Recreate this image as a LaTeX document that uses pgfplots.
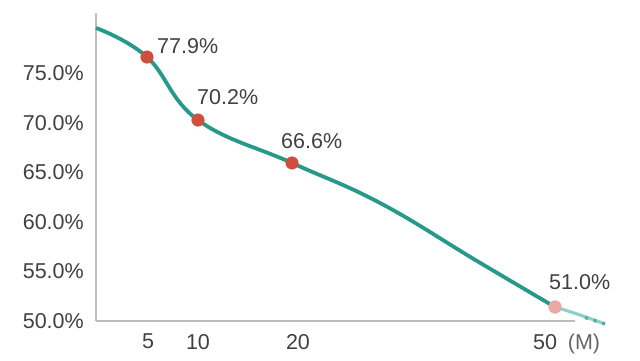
\documentclass[border=0pt]{standalone}
\usepackage{pgfplots}
\pgfplotsset{compat=1.18}
\usepackage{fontspec}
\setmainfont{Liberation Sans}
\definecolor{teal1}{HTML}{26998B}
\definecolor{tealtail}{HTML}{8FD0C8}
\definecolor{mk}{HTML}{CF4F3F}
\definecolor{mkpale}{HTML}{EBA9A6}
\definecolor{txt}{HTML}{404040}
\definecolor{axg}{HTML}{BDBDBD}
\begin{document}
\begin{tikzpicture}
\begin{axis}[
  at={(96pt,40pt)}, anchor=south west,
  scale only axis,
  width=479pt, height=308pt,
  xmin=96, xmax=575, ymin=50, ymax=81.05,
  clip=false,
  axis lines=left,
  axis line style={axg, line width=1.1pt, -},
  major tick length=0pt,
  ytick={50,55,60,65,70,75},
  yticklabels={50.0\%,55.0\%,60.0\%,65.0\%,70.0\%,75.0\%},
  xtick={148,198,298,545},
  xticklabels={5,10,20,50},
  ticklabel style={font=\fontsize{21.5}{25}\selectfont, text=txt, inner sep=0pt},
  yticklabel style={anchor=east, xshift=-12pt},
  xticklabel style={anchor=north, yshift=-13pt},
]
% main curve
\addplot[teal1, line width=3.8pt, smooth, tension=0.7] coordinates {
 (96,79.54) (147,76.61) (198,70.26) (292,65.93)
 (380,61.90) (477,56.05) (555,51.41)
};
% faded tail
\addplot[tealtail, line width=3.2pt, smooth] coordinates {
 (555,51.41) (577,50.71) (605,49.70)
};
\addplot[teal1!80, line width=3.2pt, dash pattern=on 3pt off 6pt] coordinates {
 (585,50.35) (605,49.70)
};
% markers
\addplot[only marks, mark=*, mark size=6.3pt, mark options={fill=mk, draw=mk}] coordinates {
 (147,76.61) (198,70.26) (292,65.93)
};
\addplot[only marks, mark=*, mark size=6.3pt, mark options={fill=mkpale, draw=mk!50, line width=0.6pt}] coordinates {
 (555,51.41)
};
% data labels
\begin{scope}[every node/.style={font=\fontsize{21.5}{25}\selectfont, text=txt, inner sep=0pt, anchor=base west}]
\node at ([xshift=10pt,yshift=4pt]axis cs:147,76.61) {77.9\%};
\node at ([xshift=-1pt,yshift=16pt]axis cs:198,70.26) {70.2\%};
\node at ([xshift=-11pt,yshift=14pt]axis cs:292,65.93) {66.6\%};
\node at ([xshift=-6pt,yshift=18pt]axis cs:555,51.41) {51.0\%};
\end{scope}
\node[font=\fontsize{21.5}{25}\selectfont, text=txt!80, inner sep=0pt, anchor=north] at ([yshift=-13pt]axis cs:584,50) {(M)};
\end{axis}
\pgfresetboundingbox
\useasboundingbox (0,0) rectangle (640pt,361pt);
\end{tikzpicture}
\end{document}
